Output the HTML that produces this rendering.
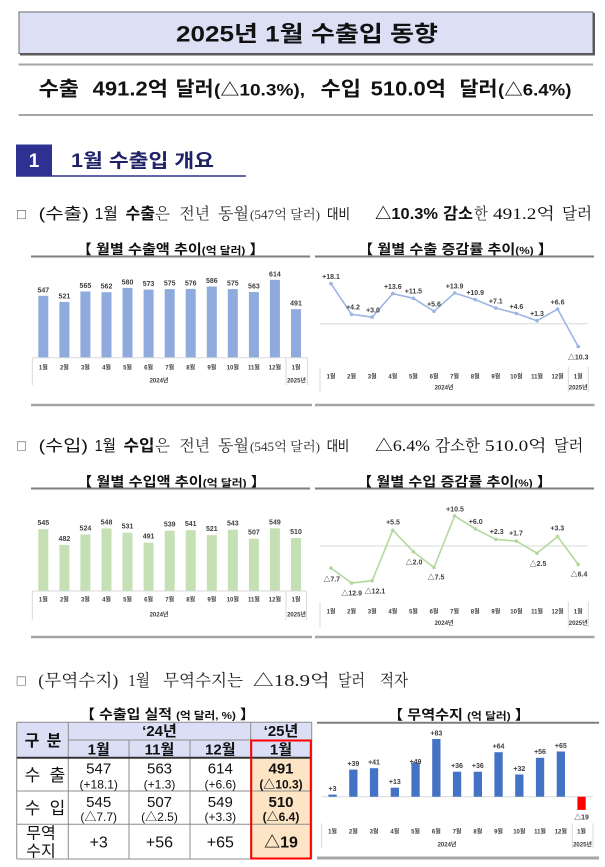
<!DOCTYPE html>
<html><head><meta charset="utf-8"><style>
html,body{margin:0;padding:0;background:#fff;width:605px;height:867px;overflow:hidden}
svg{display:block}
.s{font-family:"Liberation Sans","Noto Sans CJK KR",sans-serif}
.r{font-family:"Liberation Serif","Noto Serif CJK SC",serif}
.b{font-weight:bold}
.m{text-anchor:middle}
.v{font-family:"Liberation Sans","Noto Sans CJK KR",sans-serif;font-size:7px;font-weight:bold;fill:#404040;text-anchor:middle}
.a{font-family:"Liberation Sans","Noto Sans CJK KR",sans-serif;font-size:6px;font-weight:bold;fill:#404040;text-anchor:middle}
</style></head><body>
<svg width="605" height="867" viewBox="0 0 605 867" xmlns="http://www.w3.org/2000/svg">
<rect width="605" height="867" fill="#fff"/>

<!-- Title box -->
<rect x="19" y="12" width="574" height="41.5" fill="#dde0f5" stroke="#6b6b6b" stroke-width="1"/>
<rect x="20" y="53" width="575" height="2.5" fill="#5a5a5a"/>
<rect x="592.5" y="13" width="2.5" height="42.5" fill="#5a5a5a"/>
<text class="s b" x="176" y="41.5" font-size="22" fill="#111" textLength="262" lengthAdjust="spacingAndGlyphs">2025년 1월 수출입 동향</text>

<line x1="18.5" y1="64.5" x2="593" y2="64.5" stroke="#a6a6a6" stroke-width="2"/>
<g class="s b" font-size="20" fill="#111">
<text x="38.6" y="95.7" textLength="40.4" lengthAdjust="spacingAndGlyphs">수출</text>
<text x="92.7" y="95.7" textLength="75.3" lengthAdjust="spacingAndGlyphs">491.2억</text>
<text x="175.7" y="95.7" textLength="38" lengthAdjust="spacingAndGlyphs">달러</text>
<text x="214" y="95.7" font-size="17" textLength="91" lengthAdjust="spacingAndGlyphs">(△10.3%),</text>
<text x="320.5" y="95.7" textLength="40.5" lengthAdjust="spacingAndGlyphs">수입</text>
<text x="370.7" y="95.7" textLength="75.3" lengthAdjust="spacingAndGlyphs">510.0억</text>
<text x="459.5" y="95.7" textLength="38" lengthAdjust="spacingAndGlyphs">달러</text>
<text x="498" y="95.7" font-size="17" textLength="73.4" lengthAdjust="spacingAndGlyphs">(△6.4%)</text>
</g>
<line x1="18.5" y1="115" x2="593" y2="115" stroke="#a6a6a6" stroke-width="2"/>

<!-- Section header -->
<rect x="16" y="144.5" width="36" height="31" fill="#2e3192"/>
<text class="s b m" x="34" y="167" font-size="19" fill="#fff">1</text>
<line x1="16" y1="176" x2="246" y2="176" stroke="#2e3192" stroke-width="1.5"/>
<text class="s b" x="71" y="166.8" font-size="19" fill="#1f2266" textLength="143" lengthAdjust="spacingAndGlyphs">1월 수출입 개요</text>

<!-- Export sentence -->
<g font-size="16" fill="#111">
<text class="s" x="17" y="219" font-size="15" fill="#555">□</text>
<text class="s" x="38.6" y="219.2" textLength="50.2" lengthAdjust="spacingAndGlyphs">(수출)</text>
<text class="s" x="94.6" y="219.2" textLength="23.2" lengthAdjust="spacingAndGlyphs">1월</text>
<text class="s b" x="125.5" y="219.2" textLength="29.5" lengthAdjust="spacingAndGlyphs">수출</text>
<text class="r" x="155" y="219.2" textLength="15" lengthAdjust="spacingAndGlyphs" fill="#333">은</text>
<text class="r" x="179.5" y="219.2" textLength="30.5" lengthAdjust="spacingAndGlyphs" fill="#333">전년</text>
<text class="r" x="218" y="219.2" textLength="31" lengthAdjust="spacingAndGlyphs" fill="#333">동월</text>
<text class="r" x="250" y="219.2" font-size="13" textLength="70" lengthAdjust="spacingAndGlyphs" fill="#333">(547억 달러)</text>
<text class="s" x="327" y="219.2" font-size="14" textLength="23" lengthAdjust="spacingAndGlyphs">대비</text>
<text class="s b" x="375" y="219.2" textLength="63" lengthAdjust="spacingAndGlyphs">△10.3%</text>
<text class="s b" x="443" y="219.2" textLength="30" lengthAdjust="spacingAndGlyphs">감소</text>
<text class="r" x="474" y="219.2" textLength="14" lengthAdjust="spacingAndGlyphs" fill="#333">한</text>
<text class="r" x="493" y="219.2" textLength="62" lengthAdjust="spacingAndGlyphs">491.2억</text>
<text class="r" x="562" y="219.2" textLength="30" lengthAdjust="spacingAndGlyphs">달러</text>
</g>

<!-- Export charts titles -->
<g class="s b" font-size="13.5" fill="#111">
<text x="76.7" y="254" textLength="188" lengthAdjust="spacingAndGlyphs">【 월별 수출액 추이<tspan font-size="10.5">(억 달러)</tspan> 】</text>
<text x="358" y="254" textLength="195" lengthAdjust="spacingAndGlyphs">【 월별 수출 증감률 추이<tspan font-size="10.5">(%)</tspan> 】</text>
</g>
<line x1="31" y1="256.5" x2="310" y2="256.5" stroke="#7f7f7f" stroke-width="2"/>
<line x1="315" y1="256.5" x2="594" y2="256.5" stroke="#7f7f7f" stroke-width="2"/>

<!-- Export bar chart -->
<g fill="#8faadc">
<rect x="38.3" y="295.8" width="10" height="61.9"/>
<rect x="59.4" y="302.0" width="10" height="55.7"/>
<rect x="80.4" y="291.5" width="10" height="66.2"/>
<rect x="101.5" y="292.2" width="10" height="65.5"/>
<rect x="122.5" y="287.9" width="10" height="69.8"/>
<rect x="143.6" y="289.6" width="10" height="68.1"/>
<rect x="164.7" y="289.1" width="10" height="68.6"/>
<rect x="185.7" y="288.9" width="10" height="68.8"/>
<rect x="206.8" y="286.5" width="10" height="71.2"/>
<rect x="227.8" y="289.1" width="10" height="68.6"/>
<rect x="248.9" y="292.0" width="10" height="65.7"/>
<rect x="269.9" y="279.8" width="10" height="77.9"/>
<rect x="291.0" y="309.2" width="10" height="48.5"/>
</g>
<g>
<text class="v" x="43.3" y="292.3">547</text>
<text class="v" x="64.4" y="298.5">521</text>
<text class="v" x="85.4" y="288">565</text>
<text class="v" x="106.5" y="288.7">562</text>
<text class="v" x="127.5" y="284.4">580</text>
<text class="v" x="148.6" y="286.1">573</text>
<text class="v" x="169.7" y="285.6">575</text>
<text class="v" x="190.7" y="285.4">576</text>
<text class="v" x="211.8" y="283">586</text>
<text class="v" x="232.8" y="285.6">575</text>
<text class="v" x="253.9" y="288.5">563</text>
<text class="v" x="274.9" y="276.3">614</text>
<text class="v" x="296" y="305.7">491</text>
</g>
<g stroke="#d9d9d9" stroke-width="1">
<line x1="32.3" y1="357.7" x2="307.5" y2="357.7"/>
<line x1="32.3" y1="357.7" x2="32.3" y2="385"/>
<line x1="286" y1="357.7" x2="286" y2="385"/>
<line x1="307.5" y1="357.7" x2="307.5" y2="385"/>
</g>
<g>
<text class="a" x="43.3" y="369.3">1월</text>
<text class="a" x="64.4" y="369.3">2월</text>
<text class="a" x="85.4" y="369.3">3월</text>
<text class="a" x="106.5" y="369.3">4월</text>
<text class="a" x="127.5" y="369.3">5월</text>
<text class="a" x="148.6" y="369.3">6월</text>
<text class="a" x="169.7" y="369.3">7월</text>
<text class="a" x="190.7" y="369.3">8월</text>
<text class="a" x="211.8" y="369.3">9월</text>
<text class="a" x="232.8" y="369.3">10월</text>
<text class="a" x="253.9" y="369.3">11월</text>
<text class="a" x="274.9" y="369.3">12월</text>
<text class="a" x="296" y="369.3">1월</text>
<text class="a" x="159" y="382.3">2024년</text>
<text class="a" x="296.5" y="382.3">2025년</text>
</g>

<!-- Export line chart -->
<line x1="320" y1="323.7" x2="588" y2="323.7" stroke="#d9d9d9" stroke-width="1"/>
<polyline fill="none" stroke="#9db5e4" stroke-width="1.6" points="331,283.7 351.6,314.4 372.2,317.1 392.8,293.6 413.4,298.3 434,311.3 454.6,293 475.2,299.6 495.8,308 516.4,313.5 537,320.8 557.6,309.1 578.2,346.5"/>
<g fill="#9db5e4">
<circle cx="331" cy="283.7" r="1.8"/><circle cx="351.6" cy="314.4" r="1.8"/><circle cx="372.2" cy="317.1" r="1.8"/><circle cx="392.8" cy="293.6" r="1.8"/><circle cx="413.4" cy="298.3" r="1.8"/><circle cx="434" cy="311.3" r="1.8"/><circle cx="454.6" cy="293" r="1.8"/><circle cx="475.2" cy="299.6" r="1.8"/><circle cx="495.8" cy="308" r="1.8"/><circle cx="516.4" cy="313.5" r="1.8"/><circle cx="537" cy="320.8" r="1.8"/><circle cx="557.6" cy="309.1" r="1.8"/><circle cx="578.2" cy="346.5" r="1.8"/>
</g>
<g>
<text class="v" x="331" y="279">+18.1</text>
<text class="v" x="353" y="309.7">+4.2</text>
<text class="v" x="373" y="312.4">+3.0</text>
<text class="v" x="392.8" y="288.9">+13.6</text>
<text class="v" x="413.4" y="293.6">+11.5</text>
<text class="v" x="434" y="306.6">+5.6</text>
<text class="v" x="454.6" y="288.3">+13.9</text>
<text class="v" x="475.2" y="294.9">+10.9</text>
<text class="v" x="495.8" y="303.3">+7.1</text>
<text class="v" x="516.4" y="308.8">+4.6</text>
<text class="v" x="537" y="316.1">+1.3</text>
<text class="v" x="557.6" y="304.4">+6.6</text>
<text class="v" x="578.2" y="359.5">△10.3</text>
</g>
<g stroke="#d9d9d9" stroke-width="1">
<line x1="320" y1="367" x2="320" y2="392"/>
<line x1="568.3" y1="367" x2="568.3" y2="392"/>
<line x1="588.3" y1="367" x2="588.3" y2="392"/>
</g>
<g>
<text class="a" x="331" y="378.3">1월</text>
<text class="a" x="351.6" y="378.3">2월</text>
<text class="a" x="372.2" y="378.3">3월</text>
<text class="a" x="392.8" y="378.3">4월</text>
<text class="a" x="413.4" y="378.3">5월</text>
<text class="a" x="434" y="378.3">6월</text>
<text class="a" x="454.6" y="378.3">7월</text>
<text class="a" x="475.2" y="378.3">8월</text>
<text class="a" x="495.8" y="378.3">9월</text>
<text class="a" x="516.4" y="378.3">10월</text>
<text class="a" x="537" y="378.3">11월</text>
<text class="a" x="557.6" y="378.3">12월</text>
<text class="a" x="578.2" y="378.3">1월</text>
<text class="a" x="444" y="389.3">2024년</text>
<text class="a" x="578.2" y="389.3">2025년</text>
</g>

<line x1="31" y1="405" x2="312" y2="405" stroke="#a6a6a6" stroke-width="2.5"/>
<line x1="315" y1="405" x2="594.6" y2="405" stroke="#a6a6a6" stroke-width="2.5"/>

<!-- Import sentence -->
<g font-size="16" fill="#111">
<text class="s" x="17" y="450.7" font-size="15" fill="#555">□</text>
<text class="s" x="38.6" y="450.9" textLength="49.4" lengthAdjust="spacingAndGlyphs">(수입)</text>
<text class="s" x="94.6" y="450.9" textLength="21.4" lengthAdjust="spacingAndGlyphs">1월</text>
<text class="s b" x="123.5" y="450.9" textLength="31" lengthAdjust="spacingAndGlyphs">수입</text>
<text class="r" x="155" y="450.9" textLength="15" lengthAdjust="spacingAndGlyphs" fill="#333">은</text>
<text class="r" x="179.5" y="450.9" textLength="30.5" lengthAdjust="spacingAndGlyphs" fill="#333">전년</text>
<text class="r" x="218" y="450.9" textLength="31" lengthAdjust="spacingAndGlyphs" fill="#333">동월</text>
<text class="r" x="250" y="450.9" font-size="13" textLength="70" lengthAdjust="spacingAndGlyphs" fill="#333">(545억 달러)</text>
<text class="s" x="326.7" y="450.9" font-size="14" textLength="22.5" lengthAdjust="spacingAndGlyphs">대비</text>
<text class="r" x="375" y="450.9" textLength="55" lengthAdjust="spacingAndGlyphs">△6.4%</text>
<text class="r" x="435" y="450.9" textLength="45" lengthAdjust="spacingAndGlyphs">감소한</text>
<text class="r" x="485" y="450.9" textLength="61.7" lengthAdjust="spacingAndGlyphs">510.0억</text>
<text class="r" x="554" y="450.9" textLength="29.3" lengthAdjust="spacingAndGlyphs">달러</text>
</g>

<!-- Import chart titles -->
<g class="s b" font-size="13.5" fill="#111">
<text x="77" y="486.5" textLength="189" lengthAdjust="spacingAndGlyphs">【 월별 수입액 추이<tspan font-size="10.5">(억 달러)</tspan> 】</text>
<text x="357" y="486.5" textLength="195" lengthAdjust="spacingAndGlyphs">【 월별 수입 증감률 추이<tspan font-size="10.5">(%)</tspan> 】</text>
</g>
<line x1="31" y1="488.5" x2="310" y2="488.5" stroke="#7f7f7f" stroke-width="2"/>
<line x1="315" y1="488.5" x2="594" y2="488.5" stroke="#7f7f7f" stroke-width="2"/>

<!-- Import bar chart -->
<g fill="#c5e0b4">
<rect x="38.3" y="529.2" width="10" height="61.8"/>
<rect x="59.4" y="544.9" width="10" height="46.1"/>
<rect x="80.4" y="534.5" width="10" height="56.5"/>
<rect x="101.5" y="528.5" width="10" height="62.5"/>
<rect x="122.5" y="532.7" width="10" height="58.3"/>
<rect x="143.6" y="542.7" width="10" height="48.3"/>
<rect x="164.7" y="530.7" width="10" height="60.3"/>
<rect x="185.7" y="530.2" width="10" height="60.8"/>
<rect x="206.8" y="535.2" width="10" height="55.8"/>
<rect x="227.8" y="529.7" width="10" height="61.3"/>
<rect x="248.9" y="538.7" width="10" height="52.3"/>
<rect x="269.9" y="528.3" width="10" height="62.7"/>
<rect x="291.0" y="538.0" width="10" height="53.0"/>
</g>
<g>
<text class="v" x="43.3" y="525.2">545</text>
<text class="v" x="64.4" y="540.9">482</text>
<text class="v" x="85.4" y="530.5">524</text>
<text class="v" x="106.5" y="524.5">548</text>
<text class="v" x="127.5" y="528.7">531</text>
<text class="v" x="148.6" y="538.7">491</text>
<text class="v" x="169.7" y="526.7">539</text>
<text class="v" x="190.7" y="526.2">541</text>
<text class="v" x="211.8" y="531.2">521</text>
<text class="v" x="232.8" y="525.7">543</text>
<text class="v" x="253.9" y="534.7">507</text>
<text class="v" x="274.9" y="524.3">549</text>
<text class="v" x="296" y="534">510</text>
</g>
<g stroke="#d9d9d9" stroke-width="1">
<line x1="32.3" y1="591" x2="306.5" y2="591"/>
<line x1="32.3" y1="591" x2="32.3" y2="620"/>
<line x1="286" y1="591" x2="286" y2="620"/>
<line x1="306.5" y1="591" x2="306.5" y2="620"/>
</g>
<g>
<text class="a" x="43.3" y="601.3">1월</text>
<text class="a" x="64.4" y="601.3">2월</text>
<text class="a" x="85.4" y="601.3">3월</text>
<text class="a" x="106.5" y="601.3">4월</text>
<text class="a" x="127.5" y="601.3">5월</text>
<text class="a" x="148.6" y="601.3">6월</text>
<text class="a" x="169.7" y="601.3">7월</text>
<text class="a" x="190.7" y="601.3">8월</text>
<text class="a" x="211.8" y="601.3">9월</text>
<text class="a" x="232.8" y="601.3">10월</text>
<text class="a" x="253.9" y="601.3">11월</text>
<text class="a" x="274.9" y="601.3">12월</text>
<text class="a" x="296" y="601.3">1월</text>
<text class="a" x="159" y="616.3">2024년</text>
<text class="a" x="296.5" y="616.3">2025년</text>
</g>

<!-- Import line chart -->
<line x1="320" y1="546" x2="588" y2="546" stroke="#d9d9d9" stroke-width="1"/>
<polyline fill="none" stroke="#b4d89c" stroke-width="1.6" points="331,568.1 351.6,583 372.2,580.7 392.8,530.2 413.4,551.7 434,567.5 454.6,515.9 475.2,528.8 495.8,539.4 516.4,541.1 537,553.2 557.6,536.5 578.2,564.4"/>
<g fill="#b4d89c">
<circle cx="331" cy="568.1" r="1.8"/><circle cx="351.6" cy="583" r="1.8"/><circle cx="372.2" cy="580.7" r="1.8"/><circle cx="392.8" cy="530.2" r="1.8"/><circle cx="413.4" cy="551.7" r="1.8"/><circle cx="434" cy="567.5" r="1.8"/><circle cx="454.6" cy="515.9" r="1.8"/><circle cx="475.2" cy="528.8" r="1.8"/><circle cx="495.8" cy="539.4" r="1.8"/><circle cx="516.4" cy="541.1" r="1.8"/><circle cx="537" cy="553.2" r="1.8"/><circle cx="557.6" cy="536.5" r="1.8"/><circle cx="578.2" cy="564.4" r="1.8"/>
</g>
<g>
<text class="v" x="331.7" y="581.6">△7.7</text>
<text class="v" x="351.7" y="595.6">△12.9</text>
<text class="v" x="375" y="593.3">△12.1</text>
<text class="v" x="393" y="524.6">+5.5</text>
<text class="v" x="414" y="564.3">△2.0</text>
<text class="v" x="436" y="579.3">△7.5</text>
<text class="v" x="455" y="511.3">+10.5</text>
<text class="v" x="475.7" y="524">+6.0</text>
<text class="v" x="496.7" y="534">+2.3</text>
<text class="v" x="516" y="535.6">+1.7</text>
<text class="v" x="538" y="566">△2.5</text>
<text class="v" x="557.3" y="530.6">+3.3</text>
<text class="v" x="579" y="576.6">△6.4</text>
</g>
<g stroke="#d9d9d9" stroke-width="1">
<line x1="320" y1="601.7" x2="320" y2="627.7"/>
<line x1="568.3" y1="601.7" x2="568.3" y2="627.7"/>
<line x1="588.3" y1="601.7" x2="588.3" y2="627.7"/>
</g>
<g>
<text class="a" x="331" y="613.3">1월</text>
<text class="a" x="351.6" y="613.3">2월</text>
<text class="a" x="372.2" y="613.3">3월</text>
<text class="a" x="392.8" y="613.3">4월</text>
<text class="a" x="413.4" y="613.3">5월</text>
<text class="a" x="434" y="613.3">6월</text>
<text class="a" x="454.6" y="613.3">7월</text>
<text class="a" x="475.2" y="613.3">8월</text>
<text class="a" x="495.8" y="613.3">9월</text>
<text class="a" x="516.4" y="613.3">10월</text>
<text class="a" x="537" y="613.3">11월</text>
<text class="a" x="557.6" y="613.3">12월</text>
<text class="a" x="578.2" y="613.3">1월</text>
<text class="a" x="444" y="625">2024년</text>
<text class="a" x="578.2" y="625">2025년</text>
</g>

<line x1="31" y1="637" x2="312" y2="637" stroke="#a6a6a6" stroke-width="2.5"/>
<line x1="315" y1="637" x2="594.6" y2="637" stroke="#a6a6a6" stroke-width="2.5"/>

<!-- Trade balance sentence -->
<g class="r" font-size="16.5" fill="#222">
<text class="s" x="16.7" y="685.5" font-size="15" fill="#555">□</text>
<text x="38.3" y="686" textLength="80" lengthAdjust="spacingAndGlyphs">(무역수지)</text>
<text x="128.3" y="686" textLength="21.7" lengthAdjust="spacingAndGlyphs">1월</text>
<text x="163" y="686" textLength="80" lengthAdjust="spacingAndGlyphs">무역수지는</text>
<text x="253" y="686" textLength="77" lengthAdjust="spacingAndGlyphs">△18.9억</text>
<text x="338" y="686" textLength="27" lengthAdjust="spacingAndGlyphs">달러</text>
<text x="380" y="686" textLength="28" lengthAdjust="spacingAndGlyphs">적자</text>
</g>

<!-- Table title -->
<text class="s b" x="80" y="719" font-size="13.5" fill="#111" textLength="175" lengthAdjust="spacingAndGlyphs">【 수출입 실적 <tspan font-size="10.5">(억 달러, %)</tspan> 】</text>

<!-- Table -->
<rect x="16.7" y="722.3" width="295" height="35.4" fill="#dadff6"/>
<rect x="250.7" y="757.7" width="61" height="101.3" fill="#fce4c4"/>
<g stroke="#8c8c8c" stroke-width="1">
<line x1="16.7" y1="722.3" x2="311.7" y2="722.3"/>
<line x1="68.3" y1="740" x2="311.7" y2="740"/>
<line x1="16.7" y1="791" x2="311.7" y2="791"/>
<line x1="16.7" y1="824.3" x2="311.7" y2="824.3"/>
<line x1="16.7" y1="859" x2="311.7" y2="859"/>
<line x1="16.7" y1="722.3" x2="16.7" y2="859"/>
<line x1="68.3" y1="722.3" x2="68.3" y2="859"/>
<line x1="129" y1="740" x2="129" y2="859"/>
<line x1="190" y1="740" x2="190" y2="859"/>
<line x1="250.7" y1="722.3" x2="250.7" y2="859"/>
<line x1="311.7" y1="722.3" x2="311.7" y2="859"/>
</g>
<line x1="16.7" y1="757.7" x2="311.7" y2="757.7" stroke="#333" stroke-width="2"/>
<rect x="251.2" y="740.5" width="59.6" height="118" fill="none" stroke="#ff0000" stroke-width="2"/>

<g class="s" fill="#111">
<text class="b m" x="32" y="745.8" font-size="16">구</text>
<text class="b m" x="54" y="745.8" font-size="16">분</text>
<text class="b m" x="159.5" y="736.1" font-size="15">‘24년</text>
<text class="b m" x="281" y="736.1" font-size="15">‘25년</text>
<text class="b m" x="98.7" y="754.7" font-size="15">1월</text>
<text class="b m" x="159.5" y="754.7" font-size="15">11월</text>
<text class="b m" x="220.3" y="754.7" font-size="15">12월</text>
<text class="b m" x="281" y="754.7" font-size="15">1월</text>

<text class="m" x="32.5" y="781" font-size="17">수</text>
<text class="m" x="57.5" y="781" font-size="17">출</text>
<text class="m" x="32.5" y="814" font-size="17">수</text>
<text class="m" x="57.5" y="814" font-size="17">입</text>
<text class="m" x="41" y="838.5" font-size="16">무역</text>
<text class="m" x="41" y="856.5" font-size="16">수지</text>

<text class="m" x="98.7" y="773.7" font-size="15">547</text>
<text class="m" x="98.7" y="788.3" font-size="12">(+18.1)</text>
<text class="m" x="159.5" y="773.7" font-size="15">563</text>
<text class="m" x="159.5" y="788.3" font-size="12">(+1.3)</text>
<text class="m" x="220.3" y="773.7" font-size="15">614</text>
<text class="m" x="220.3" y="788.3" font-size="12">(+6.6)</text>
<text class="b m" x="281" y="773.7" font-size="15">491</text>
<text class="b m" x="281" y="788.3" font-size="12">(△10.3)</text>

<text class="m" x="98.7" y="807.1" font-size="15">545</text>
<text class="m" x="98.7" y="821" font-size="12">(△7.7)</text>
<text class="m" x="159.5" y="807.1" font-size="15">507</text>
<text class="m" x="159.5" y="821" font-size="12">(△2.5)</text>
<text class="m" x="220.3" y="807.1" font-size="15">549</text>
<text class="m" x="220.3" y="821" font-size="12">(+3.3)</text>
<text class="b m" x="281" y="807.1" font-size="15">510</text>
<text class="b m" x="281" y="821" font-size="12">(△6.4)</text>

<text class="m" x="98.7" y="847.5" font-size="16">+3</text>
<text class="m" x="159.5" y="847.5" font-size="16">+56</text>
<text class="m" x="220.3" y="847.5" font-size="16">+65</text>
<text class="b m" x="281" y="847.5" font-size="16">△19</text>
</g>

<!-- Trade chart -->
<text class="s b" x="388" y="719.5" font-size="13.5" fill="#111" textLength="142" lengthAdjust="spacingAndGlyphs">【 무역수지 <tspan font-size="10.5">(억 달러)</tspan> 】</text>
<line x1="317" y1="722.7" x2="599" y2="722.7" stroke="#7f7f7f" stroke-width="2"/>
<line x1="321.7" y1="796.7" x2="593" y2="796.7" stroke="#d9d9d9" stroke-width="1"/>
<g fill="#4472c4">
<rect x="328.4" y="794.6" width="8.3" height="2.1"/>
<rect x="349.2" y="769.6" width="8.3" height="27.1"/>
<rect x="369.9" y="768.2" width="8.3" height="28.5"/>
<rect x="390.7" y="787.7" width="8.3" height="9"/>
<rect x="411.4" y="762.6" width="8.3" height="34.1"/>
<rect x="432.2" y="739.0" width="8.3" height="57.7"/>
<rect x="452.9" y="771.7" width="8.3" height="25"/>
<rect x="473.7" y="771.7" width="8.3" height="25"/>
<rect x="494.4" y="752.2" width="8.3" height="44.5"/>
<rect x="515.2" y="774.5" width="8.3" height="22.2"/>
<rect x="535.9" y="757.8" width="8.3" height="38.9"/>
<rect x="556.7" y="751.5" width="8.3" height="45.2"/>
</g>
<rect x="577.4" y="796.7" width="8.3" height="13.2" fill="#ff0000"/>
<g>
<text class="v" x="332.5" y="791">+3</text>
<text class="v" x="353.3" y="766">+39</text>
<text class="v" x="374" y="764.6">+41</text>
<text class="v" x="394.8" y="784.1">+13</text>
<text class="v" x="415.5" y="764">+49</text>
<text class="v" x="436.3" y="735.4">+83</text>
<text class="v" x="457" y="768.1">+36</text>
<text class="v" x="477.8" y="768.1">+36</text>
<text class="v" x="498.5" y="748.6">+64</text>
<text class="v" x="519.3" y="770.9">+32</text>
<text class="v" x="540" y="754.2">+56</text>
<text class="v" x="560.8" y="747.9">+65</text>
<text class="v" x="581.5" y="819.6">△19</text>
</g>
<g stroke="#d9d9d9" stroke-width="1">
<line x1="321.7" y1="823.3" x2="321.7" y2="848"/>
<line x1="572.3" y1="823.3" x2="572.3" y2="848"/>
<line x1="593" y1="823.3" x2="593" y2="848"/>
</g>
<g>
<text class="a" x="332.5" y="833.3">1월</text>
<text class="a" x="353.3" y="833.3">2월</text>
<text class="a" x="374" y="833.3">3월</text>
<text class="a" x="394.8" y="833.3">4월</text>
<text class="a" x="415.5" y="833.3">5월</text>
<text class="a" x="436.3" y="833.3">6월</text>
<text class="a" x="457" y="833.3">7월</text>
<text class="a" x="477.8" y="833.3">8월</text>
<text class="a" x="498.5" y="833.3">9월</text>
<text class="a" x="519.3" y="833.3">10월</text>
<text class="a" x="540" y="833.3">11월</text>
<text class="a" x="560.8" y="833.3">12월</text>
<text class="a" x="581.5" y="833.3">1월</text>
<text class="a" x="447" y="846.3">2024년</text>
<text class="a" x="582.5" y="846.3">2025년</text>
</g>
<line x1="317" y1="858" x2="599" y2="858" stroke="#a6a6a6" stroke-width="3"/>
</svg>
</body></html>
